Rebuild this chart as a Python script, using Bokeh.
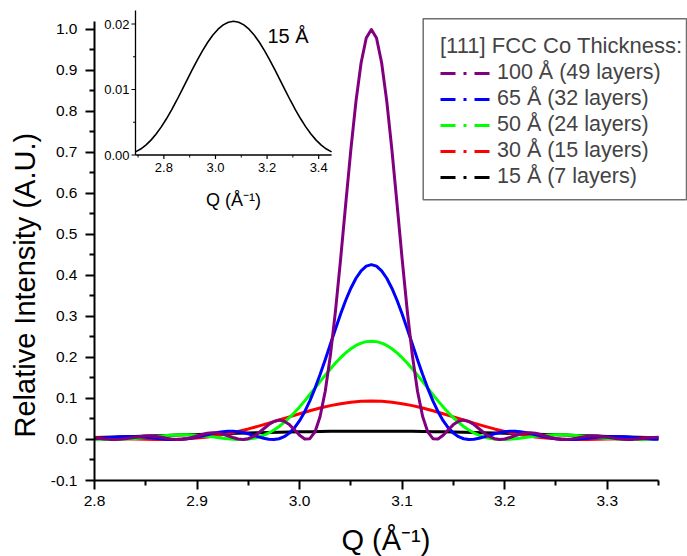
import numpy as np
from bokeh.plotting import figure
from bokeh.models import (Range1d, FixedTicker, PrintfTickFormatter, Legend, LegendItem,
                          Label, Title, LinearAxis)
from bokeh.core.properties import value
from bokeh.embed import file_html
from bokeh.resources import INLINE

# ---------------- data ----------------
q_fine = [
    2.800, 2.805, 2.810, 2.815, 2.820, 2.825, 2.830, 2.835, 2.840, 2.845,
    2.850, 2.855, 2.860, 2.865, 2.870, 2.875, 2.880, 2.885, 2.890, 2.895,
    2.900, 2.905, 2.910, 2.915, 2.920, 2.925, 2.930, 2.935, 2.940, 2.945,
    2.950, 2.955, 2.960, 2.965, 2.970, 2.975, 2.980, 2.985, 2.990, 2.995,
    3.000, 3.005, 3.010, 3.015, 3.020, 3.025, 3.030, 3.035, 3.040, 3.045,
    3.050, 3.055, 3.060, 3.065, 3.070, 3.075, 3.080, 3.085, 3.090, 3.095,
    3.100, 3.105, 3.110, 3.115, 3.120, 3.125, 3.130, 3.135, 3.140, 3.145,
    3.150, 3.155, 3.160, 3.165, 3.170, 3.175, 3.180, 3.185, 3.190, 3.195,
    3.200, 3.205, 3.210, 3.215, 3.220, 3.225, 3.230, 3.235, 3.240, 3.245,
    3.250, 3.255, 3.260, 3.265, 3.270, 3.275, 3.280, 3.285, 3.290, 3.295,
    3.300, 3.305, 3.310, 3.315, 3.320, 3.325, 3.330, 3.335, 3.340, 3.345,
    3.350,
]

purple_100A = [
    0.0038, 0.0025, 0.0012, 0.0003, 0.0000, 0.0005, 0.0018, 0.0037, 0.0057, 0.0074,
    0.0083, 0.0083, 0.0073, 0.0055, 0.0032, 0.0013, 0.0001, 0.0003, 0.0019, 0.0048,
    0.0085, 0.0123, 0.0152, 0.0166, 0.0159, 0.0133, 0.0092, 0.0048, 0.0013, 0.0000,
    0.0019, 0.0074, 0.0159, 0.0262, 0.0364, 0.0441, 0.0473, 0.0447, 0.0364, 0.0239,
    0.0105, 0.0013, 0.0019, 0.0185, 0.0560, 0.1178, 0.2046, 0.3139, 0.4401, 0.5750,
    0.7068, 0.8252, 0.9190, 0.9792, 1.0000, 0.9792, 0.9190, 0.8252, 0.7068, 0.5750,
    0.4401, 0.3139, 0.2046, 0.1178, 0.0560, 0.0185, 0.0019, 0.0013, 0.0105, 0.0239,
    0.0364, 0.0447, 0.0473, 0.0441, 0.0364, 0.0262, 0.0159, 0.0074, 0.0019, 0.0000,
    0.0013, 0.0048, 0.0092, 0.0133, 0.0159, 0.0166, 0.0152, 0.0123, 0.0085, 0.0048,
    0.0019, 0.0003, 0.0001, 0.0013, 0.0032, 0.0055, 0.0073, 0.0083, 0.0083, 0.0074,
    0.0057, 0.0037, 0.0018, 0.0005, 0.0000, 0.0003, 0.0012, 0.0025, 0.0038, 0.0048,
    0.0052,
]

blue_65A = [
    0.0017, 0.0027, 0.0038, 0.0048, 0.0058, 0.0066, 0.0070, 0.0072, 0.0069, 0.0063,
    0.0053, 0.0041, 0.0029, 0.0017, 0.0007, 0.0001, 0.0000, 0.0006, 0.0018, 0.0036,
    0.0060, 0.0088, 0.0117, 0.0146, 0.0171, 0.0190, 0.0201, 0.0201, 0.0191, 0.0170,
    0.0139, 0.0103, 0.0065, 0.0031, 0.0007, 0.0000, 0.0018, 0.0068, 0.0155, 0.0284,
    0.0458, 0.0679, 0.0943, 0.1248, 0.1585, 0.1947, 0.2322, 0.2697, 0.3059, 0.3396,
    0.3690, 0.3933, 0.4115, 0.4227, 0.4265, 0.4227, 0.4115, 0.3933, 0.3690, 0.3396,
    0.3059, 0.2697, 0.2322, 0.1947, 0.1585, 0.1248, 0.0943, 0.0679, 0.0458, 0.0284,
    0.0155, 0.0068, 0.0018, 0.0000, 0.0007, 0.0031, 0.0065, 0.0103, 0.0139, 0.0170,
    0.0191, 0.0201, 0.0201, 0.0190, 0.0171, 0.0146, 0.0117, 0.0088, 0.0060, 0.0036,
    0.0018, 0.0006, 0.0000, 0.0001, 0.0007, 0.0017, 0.0029, 0.0041, 0.0053, 0.0063,
    0.0069, 0.0072, 0.0070, 0.0066, 0.0058, 0.0048, 0.0038, 0.0027, 0.0017, 0.0009,
    0.0003,
]

green_50A = [
    0.0007, 0.0003, 0.0001, 0.0000, 0.0001, 0.0005, 0.0010, 0.0018, 0.0027, 0.0038,
    0.0050, 0.0062, 0.0075, 0.0086, 0.0097, 0.0105, 0.0111, 0.0114, 0.0114, 0.0110,
    0.0103, 0.0092, 0.0079, 0.0064, 0.0047, 0.0032, 0.0017, 0.0007, 0.0001, 0.0001,
    0.0010, 0.0029, 0.0060, 0.0103, 0.0160, 0.0231, 0.0317, 0.0417, 0.0531, 0.0658,
    0.0795, 0.0942, 0.1096, 0.1254, 0.1412, 0.1569, 0.1721, 0.1864, 0.1996, 0.2114,
    0.2213, 0.2293, 0.2351, 0.2387, 0.2399, 0.2387, 0.2351, 0.2293, 0.2213, 0.2114,
    0.1996, 0.1864, 0.1721, 0.1569, 0.1412, 0.1254, 0.1096, 0.0942, 0.0795, 0.0658,
    0.0531, 0.0417, 0.0317, 0.0231, 0.0160, 0.0103, 0.0060, 0.0029, 0.0010, 0.0001,
    0.0001, 0.0007, 0.0017, 0.0032, 0.0047, 0.0064, 0.0079, 0.0092, 0.0103, 0.0110,
    0.0114, 0.0114, 0.0111, 0.0105, 0.0097, 0.0086, 0.0075, 0.0062, 0.0050, 0.0038,
    0.0027, 0.0018, 0.0010, 0.0005, 0.0001, 0.0000, 0.0001, 0.0003, 0.0007, 0.0011,
    0.0016,
]

q_coarse = [
    2.80, 2.81, 2.82, 2.83, 2.84, 2.85, 2.86, 2.87, 2.88, 2.89,
    2.90, 2.91, 2.92, 2.93, 2.94, 2.95, 2.96, 2.97, 2.98, 2.99,
    3.00, 3.01, 3.02, 3.03, 3.04, 3.05, 3.06, 3.07, 3.08, 3.09,
    3.10, 3.11, 3.12, 3.13, 3.14, 3.15, 3.16, 3.17, 3.18, 3.19,
    3.20, 3.21, 3.22, 3.23, 3.24, 3.25, 3.26, 3.27, 3.28, 3.29,
    3.30, 3.31, 3.32, 3.33, 3.34, 3.35,
]

red_30A = [
    0.0040, 0.0034, 0.0027, 0.0019, 0.0011, 0.0005, 0.0001, 0.0001, 0.0006, 0.0017,
    0.0036, 0.0063, 0.0099, 0.0143, 0.0197, 0.0258, 0.0326, 0.0399, 0.0475, 0.0552,
    0.0629, 0.0701, 0.0768, 0.0826, 0.0873, 0.0908, 0.0930, 0.0937, 0.0930, 0.0908,
    0.0873, 0.0826, 0.0768, 0.0701, 0.0629, 0.0552, 0.0475, 0.0399, 0.0326, 0.0258,
    0.0197, 0.0143, 0.0099, 0.0063, 0.0036, 0.0017, 0.0006, 0.0001, 0.0001, 0.0005,
    0.0011, 0.0019, 0.0027, 0.0034, 0.0040, 0.0044,
]

black_15A = [
    0.0049, 0.0055, 0.0062, 0.0069, 0.0076, 0.0084, 0.0091, 0.0099, 0.0107, 0.0115,
    0.0122, 0.0130, 0.0138, 0.0145, 0.0152, 0.0159, 0.0166, 0.0172, 0.0178, 0.0183,
    0.0188, 0.0192, 0.0196, 0.0199, 0.0201, 0.0203, 0.0204, 0.0204, 0.0204, 0.0203,
    0.0201, 0.0199, 0.0196, 0.0192, 0.0188, 0.0183, 0.0178, 0.0172, 0.0166, 0.0159,
    0.0152, 0.0145, 0.0138, 0.0130, 0.0122, 0.0115, 0.0107, 0.0099, 0.0091, 0.0084,
    0.0076, 0.0069, 0.0062, 0.0055, 0.0049, 0.0043,
]

q_inset = [
    2.69, 2.71, 2.73, 2.75, 2.77, 2.79, 2.81, 2.83, 2.85, 2.87,
    2.89, 2.91, 2.93, 2.95, 2.97, 2.99, 3.01, 3.03, 3.05, 3.07,
    3.09, 3.11, 3.13, 3.15, 3.17, 3.19, 3.21, 3.23, 3.25, 3.27,
    3.29, 3.31, 3.33, 3.35, 3.37, 3.39, 3.41, 3.43, 3.45,
]
inset_15A = [
    0.00048, 0.00091, 0.00151, 0.00227, 0.00320, 0.00429, 0.00553, 0.00689, 0.00836, 0.00989,
    0.01146, 0.01302, 0.01452, 0.01593, 0.01721, 0.01831, 0.01921, 0.01987, 0.02027, 0.02041,
    0.02027, 0.01987, 0.01921, 0.01831, 0.01721, 0.01593, 0.01452, 0.01302, 0.01146, 0.00989,
    0.00836, 0.00689, 0.00553, 0.00429, 0.00320, 0.00227, 0.00151, 0.00091, 0.00048,
]

series_labels = ["100 Å (49 layers)", "65 Å (32 layers)", "50 Å (24 layers)",
                 "30 Å (15 layers)", "15 Å (7 layers)"]
legend_title = "[111] FCC Co Thickness:"

x_ticks = [2.8, 2.9, 3.0, 3.1, 3.2, 3.3]
x_minor = [2.85, 2.95, 3.05, 3.15, 3.25, 3.35]
y_ticks = [-0.1, 0.0, 0.1, 0.2, 0.3, 0.4, 0.5, 0.6, 0.7, 0.8, 0.9, 1.0]
y_minor = [-0.05, 0.05, 0.15, 0.25, 0.35, 0.45, 0.55, 0.65, 0.75, 0.85, 0.95]

inset_x_ticks = [2.8, 3.0, 3.2, 3.4]
inset_x_labels = ["2.8", "3.0", "3.2", "3.4"]
inset_x_minor = [2.7, 2.9, 3.1, 3.3]
inset_y_ticks = [0.0, 0.01, 0.02]
inset_y_labels = ["0.00", "0.01", "0.02"]
inset_y_minor = [0.005, 0.015]

# ---------------- layout (pixels) ----------------
FONT = "Liberation Sans"
W, H = 687, 556
FL, FR, FT, FB = 94, 658, 5, 480      # FR = pixel of the x-axis end (3.35)
X0, X1 = 2.8, 3.35
Y0, Y1 = -0.1, 1.0585
Y_AXIS_TOP = 1.02
XS = (FR - FL) / (X1 - X0)
YS = (FB - FT) / (Y1 - Y0)


def mx(px):
    return X0 + (px - FL) / XS


def my(py):
    return Y0 + (FB - py) / YS


p = figure(width=W, height=H, output_backend="svg", toolbar_location=None,
           x_range=Range1d(X0, X0 + (W - FL) / XS), y_range=Range1d(Y0, Y1),
           min_border_left=FL, min_border_right=0,
           min_border_top=FT, min_border_bottom=H - FB)
p.grid.visible = False
p.outline_line_color = None
p.background_fill_color = "white"
p.border_fill_color = "white"

for ax in (p.xaxis[0], p.yaxis[0]):
    ax.axis_line_width = 2
    ax.major_tick_line_width = 2
    ax.minor_tick_line_width = 2
    ax.major_tick_in = 0
    ax.major_tick_out = 9
    ax.minor_tick_in = 0
    ax.minor_tick_out = 5
    ax.major_label_text_font = FONT
    ax.major_label_text_font_size = "15.5px"
    ax.major_label_text_color = "black"
    ax.formatter = PrintfTickFormatter(format="%.1f")
p.xaxis[0].ticker = FixedTicker(ticks=x_ticks, minor_ticks=x_minor)
p.yaxis[0].ticker = FixedTicker(ticks=y_ticks, minor_ticks=y_minor)
p.xaxis[0].bounds = (X0, X1)
p.yaxis[0].bounds = (Y0, Y_AXIS_TOP)
p.xaxis[0].major_label_standoff = 6
p.yaxis[0].major_label_standoff = 8
# an invisible one-character axis label only adds room under the tick labels
p.xaxis[0].axis_label = "\u00a0"
p.xaxis[0].axis_label_text_font_size = "1px"
p.xaxis[0].axis_label_standoff = 9

# empty spacer below the x axis, so the x title sits low like the reference
spacer = LinearAxis(ticker=FixedTicker(ticks=[]), axis_line_color=None,
                    major_tick_out=7, major_tick_in=0, minor_tick_out=0, minor_tick_in=0,
                    major_tick_line_color=None, minor_tick_line_color=None,
                    major_label_standoff=0, major_label_text_font_size="0px")
p.add_layout(spacer, "below")

# axis titles (side titles so they can be placed like the reference)
p.add_layout(Title(text="Relative Intensity (A.U.)", align="left", offset=43,
                   text_font=FONT, text_font_size="29px", text_font_style="normal",
                   text_color="black", standoff=13), "left")
p.add_layout(Title(text="Q (Å⁻¹)", align="left", offset=247,
                   text_font=FONT, text_font_size="29px", text_font_style="normal",
                   text_color="black", standoff=0), "below")

# main curves (black underneath, purple on top)
p.line(q_coarse, black_15A, line_color="black", line_width=3, line_join="round")
p.line(q_coarse, red_30A, line_color="#ff0000", line_width=3, line_join="round")
p.line(q_fine, green_50A, line_color="#00ff00", line_width=3, line_join="round")
p.line(q_fine, blue_65A, line_color="#0000ff", line_width=3, line_join="round")
p.line(q_fine, purple_100A, line_color="#800080", line_width=3, line_join="round")

# legend frame (drawn as a box), then the legend contents on top of it
p.quad(left=[mx(422.7)], right=[mx(686)], top=[my(18.3)], bottom=[my(199.3)],
       fill_color="white", line_color="#6f6f6f", line_width=1.5)

colors = ["#800080", "#0000ff", "#00ff00", "#ff0000", "black"]
items = []
for lab, col in zip(series_labels, colors):
    r = p.line(x=[X0, X0], y=[float("nan"), float("nan")], line_color=col,
               line_width=3, line_dash="15 8 3 8")
    items.append(LegendItem(label=lab, renderers=[r]))
# (without a border Bokeh applies no padding, so location is the content corner)
legend = Legend(items=items, title=legend_title, location=(346, 290.5),
                title_text_font=FONT, title_text_font_size="22px",
                title_text_font_style="normal", title_standoff=1,
                label_text_font=FONT, label_text_font_size="21.5px",
                glyph_width=51, glyph_height=26, label_height=26,
                label_standoff=6, spacing=0, padding=12, margin=0,
                border_line_color=None, background_fill_alpha=0.0)
p.add_layout(legend)

# ---------------- inset ----------------
IN_L, IN_B, IN_T = 135, 154.5, 10
IN_XS, IN_YS = 258.0, 6550.0
ix0 = q_inset[0] - (IN_L - FL) / IN_XS
iy0 = 0.0 - (FB - IN_B) / IN_YS
p.extra_x_ranges = {"ix": Range1d(ix0, ix0 + (W - FL) / IN_XS)}
p.extra_y_ranges = {"iy": Range1d(iy0, iy0 + (FB - FT) / IN_YS)}


def ixd(px):
    return ix0 + (px - FL) / IN_XS


def iyd(py):
    return iy0 + (FB - py) / IN_YS


kw = dict(x_range_name="ix", y_range_name="iy")
xa, xb = q_inset[0], q_inset[-1]
ytop = iyd(IN_T)
p.segment(x0=[xa, xa], y0=[0, 0], x1=[xa, xb], y1=[ytop, 0],
          line_color="black", line_width=1.3, **kw)
p.segment(x0=[xa] * len(inset_y_ticks), y0=inset_y_ticks,
          x1=[xa - 4 / IN_XS] * len(inset_y_ticks), y1=inset_y_ticks,
          line_color="black", line_width=1.2, **kw)
p.segment(x0=[xa] * len(inset_y_minor), y0=inset_y_minor,
          x1=[xa - 2.5 / IN_XS] * len(inset_y_minor), y1=inset_y_minor,
          line_color="black", line_width=1.0, **kw)
p.segment(x0=inset_x_ticks, y0=[0] * len(inset_x_ticks),
          x1=inset_x_ticks, y1=[-4 / IN_YS] * len(inset_x_ticks),
          line_color="black", line_width=1.2, **kw)
p.segment(x0=inset_x_minor, y0=[0] * len(inset_x_minor),
          x1=inset_x_minor, y1=[-2.5 / IN_YS] * len(inset_x_minor),
          line_color="black", line_width=1.0, **kw)
p.text(x=[xa - 6 / IN_XS] * len(inset_y_ticks), y=inset_y_ticks, text=inset_y_labels,
       text_align="right", text_baseline="middle", text_font=value(FONT),
       text_font_size=value("13px"), text_color="black", **kw)
p.text(x=inset_x_ticks, y=[-8 / IN_YS] * len(inset_x_ticks), text=inset_x_labels,
       text_align="center", text_baseline="top", text_font=value(FONT),
       text_font_size=value("13px"), text_color="black", **kw)
p.line(q_inset, inset_15A, line_color="black", line_width=1.6, **kw)

p.add_layout(Label(x=ixd(233), y=iyd(199), text="Q (Å⁻¹)", text_align="center",
                   text_baseline="alphabetic", text_font=FONT, text_font_size="18px",
                   text_color="black", **kw))
p.add_layout(Label(x=ixd(267), y=iyd(35), text="15 Å", text_align="left",
                   text_baseline="alphabetic", text_font=FONT, text_font_size="20px",
                   text_color="black", **kw))

open("out.html", "w").write(file_html(p, INLINE))
